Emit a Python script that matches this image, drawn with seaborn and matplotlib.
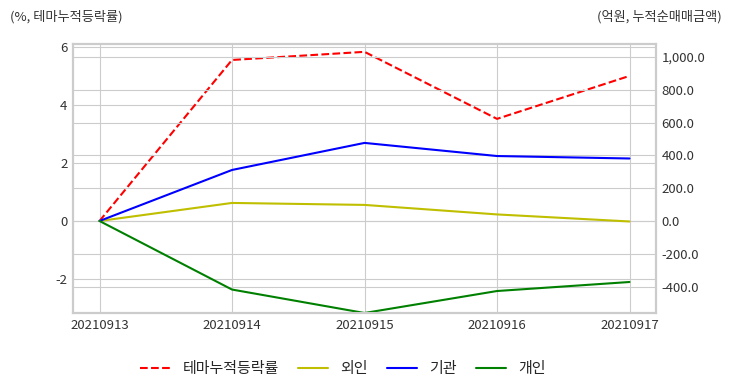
import numpy as np
import pandas as pd
import seaborn as sns
import matplotlib.pyplot as plt
from matplotlib.ticker import FuncFormatter

dates = ['20210913', '20210914', '20210915', '20210916', '20210917']
theme_rate = [0.0, 5.55, 5.83, 3.52, 5.0]      # %, 테마누적등락률 (left axis)
foreign = [0.0, 110, 98, 40, -3]               # 외인 (억원)
institution = [0.0, 311, 476, 396, 381]        # 기관 (억원)
individual = [0.0, -418, -561, -427, -372]     # 개인 (억원)

df = pd.DataFrame({'date': dates, 'theme': theme_rate, 'foreign': foreign,
                   'inst': institution, 'indiv': individual})
df['x'] = np.arange(len(dates))

sns.set_style('whitegrid')
plt.rcParams['font.family'] = ['Noto Sans CJK KR', 'DejaVu Sans']

fig = plt.figure(figsize=(7.32, 3.92), dpi=100)
ax1 = fig.add_axes([73/732, 1-313/392, (656-73)/732, (313-44)/392])
ax2 = ax1.twinx()

sns.lineplot(data=df, x='x', y='theme', ax=ax1, color='r', linestyle='--',
             linewidth=1.5, label='테마누적등락률', legend=False)
sns.lineplot(data=df, x='x', y='foreign', ax=ax2, color='y', linewidth=1.5, label='외인', legend=False)
sns.lineplot(data=df, x='x', y='inst', ax=ax2, color='b', linewidth=1.5, label='기관', legend=False)
sns.lineplot(data=df, x='x', y='indiv', ax=ax2, color='g', linewidth=1.5, label='개인', legend=False)

ax1.set_xlim(-0.2, 4.2)
ax1.set_xticks(df['x'])
ax1.set_xticklabels(dates)
ax1.set_ylim(-3.17, 6.1)
ax2.set_ylim(-561, 1079)
ax1.set_yticks([-2, 0, 2, 4, 6])
ax2.set_yticks([-400, -200, 0, 200, 400, 600, 800, 1000])
ax2.yaxis.set_major_formatter(FuncFormatter(lambda v, p: f'{v:,.1f}'))
ax1.yaxis.set_major_formatter(FuncFormatter(lambda v, p: f'{v:g}'))

for ax in (ax1, ax2):
    ax.set_xlabel('')
    ax.set_ylabel('')
    ax.tick_params(labelsize=9.5, colors='#333333', length=0, pad=4)
    for s in ax.spines.values():
        s.set_color('#cccccc')
        s.set_linewidth(1.5)

fig.text(10/732, 1-17/392, '(%, 테마누적등락률)', fontsize=9.5, color='#333333', va='center', ha='left')
fig.text(722/732, 1-17/392, '(억원, 누적순매매금액)', fontsize=9.5, color='#333333', va='center', ha='right')

h1, l1 = ax1.get_legend_handles_labels()
h2, l2 = ax2.get_legend_handles_labels()
fig.legend(h1 + h2, l1 + l2, loc='center', bbox_to_anchor=(343/732, 1-369/392), ncol=4,
           frameon=False, fontsize=10.8, handlelength=2.0, handletextpad=0.8, columnspacing=1.3)

fig.savefig('out.png', dpi=100)
